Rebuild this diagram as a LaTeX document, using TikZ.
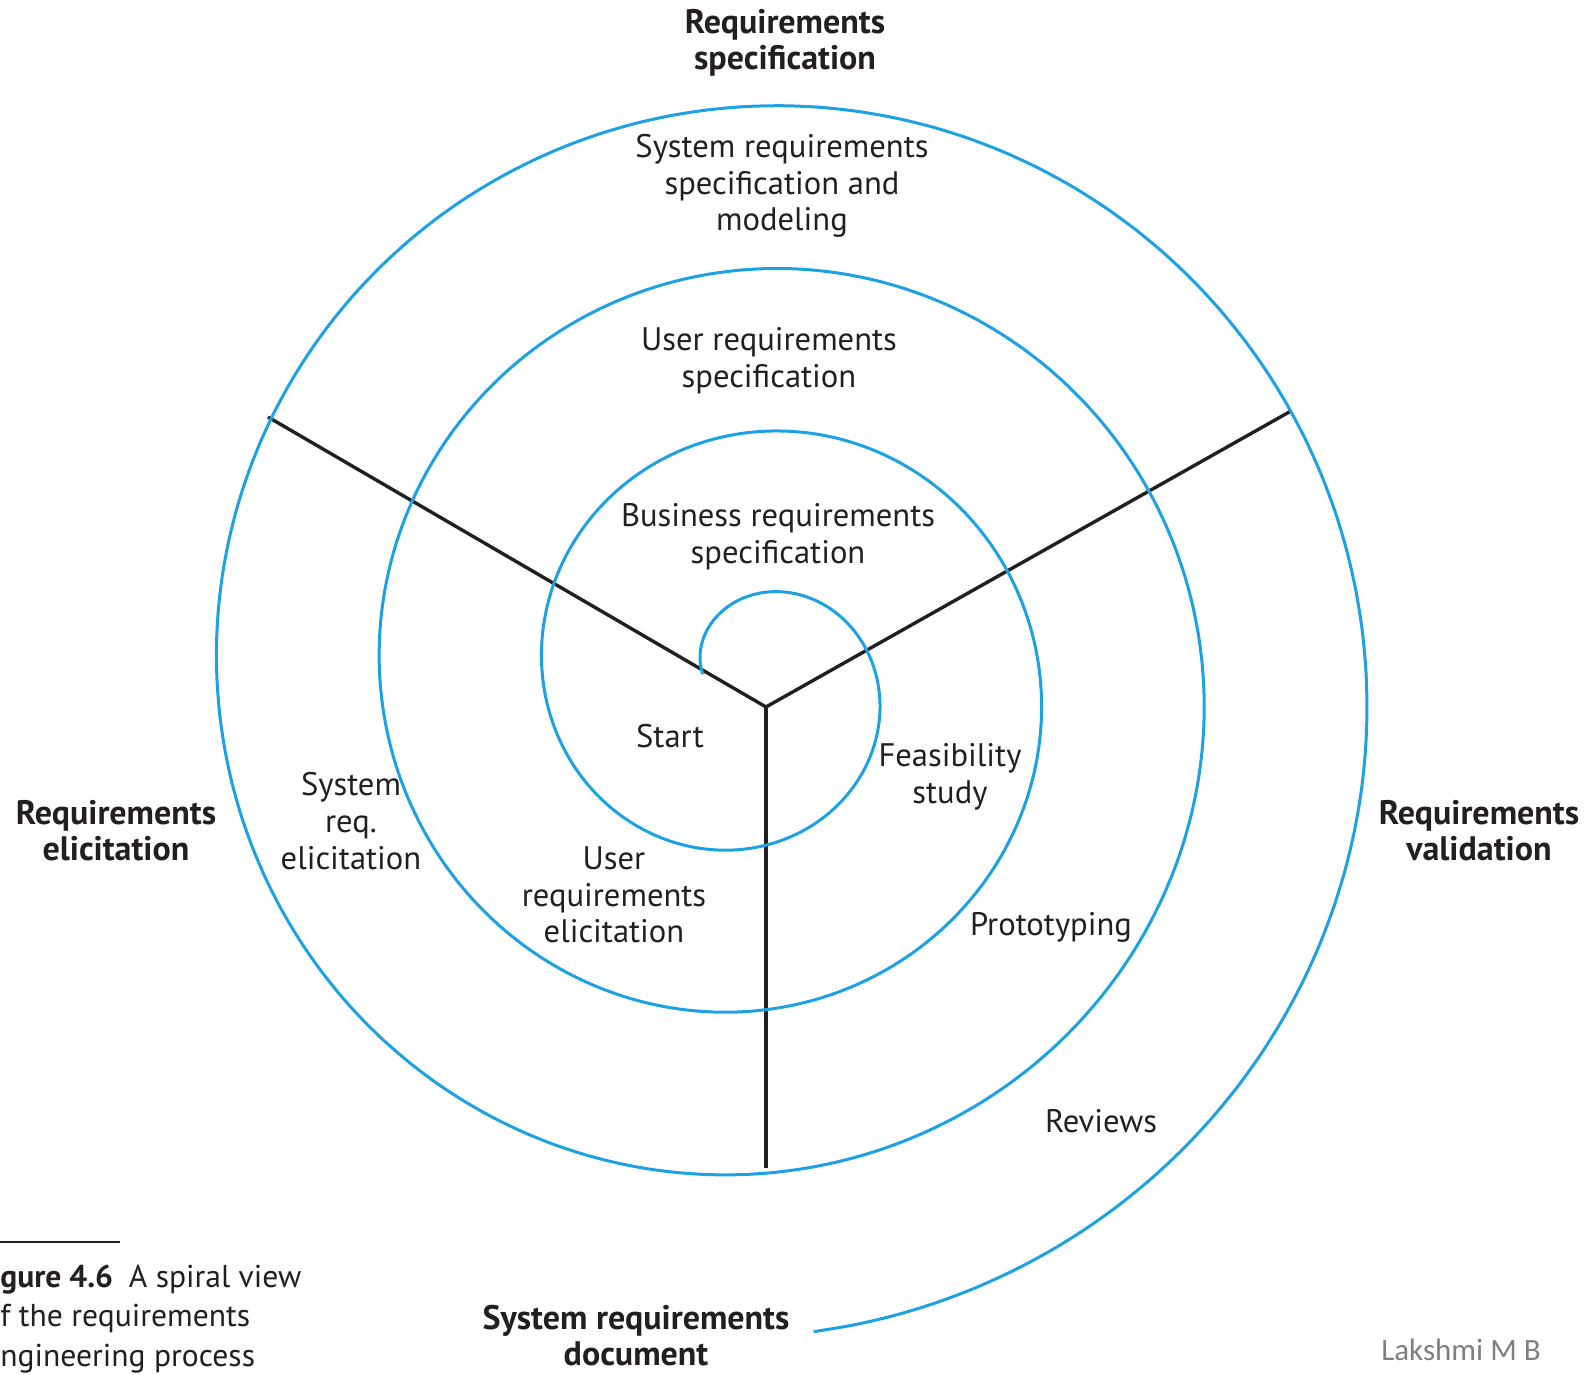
\documentclass[tikz,border=0pt]{standalone}
\usepackage{fontspec}
\setmainfont{PT Sans}
\newfontfamily\marcafont{Carlito}
\definecolor{azul}{RGB}{28,162,226}
\definecolor{tinta}{RGB}{35,31,32}
\definecolor{cinza}{RGB}{127,127,127}
\tikzset{
  rotulo/.style={font=\fontsize{16.3}{18.3}\selectfont, align=center, inner sep=0pt, text=tinta},
  fase/.style={rotulo, font=\fontsize{17}{18}\selectfont\bfseries},
  raio/.style={draw=tinta, line width=1.7pt},
  espiral/.style={draw=azul, line width=1.5pt}
}
\begin{document}
\begin{tikzpicture}[x=0.5pt, y=-0.5pt]
    \useasboundingbox (0,0) rectangle (1587,1375);

    % centro e pontas dos raios
    \coordinate (centro) at (766,707);
    \coordinate (esq) at (268,417);
    \coordinate (dir) at (1291,411);
    \coordinate (baixo) at (766,1168);

    \draw[raio] (esq) -- (centro) -- (dir);
    \draw[raio] (centro) -- (baixo);

    % espiral
    \draw[espiral] plot[domain=0:1336.5, samples=360, smooth]
        ({751+(48.6+0.45278*\x)*cos(172-\x)}, {681-(48.6+0.45278*\x)*sin(172-\x)});

    % Rotulando as fases
    \node[fase] (espec) at (785,43) {Requirements\\specification};
    \node[fase] (elic) at (116,831) {Requirements\\elicitation};
    \node[fase] (valid) at (1479,831) {Requirements\\validation};
    \node[fase] (doc) at (636,1336) {System requirements\\document};

    \node[rotulo] (sysmod) at (782,186) {System requirements\\specification and\\modeling};
    \node[rotulo] (userspec) at (769,361) {User requirements\\specification};
    \node[rotulo] (busspec) at (778,537) {Business requirements\\specification};
    \node[rotulo] (inicio) at (670,736) {Start};
    \node[rotulo] (viab) at (950,777) {Feasibility\\study};
    \node[rotulo] (syselic) at (351,821) {System\\req.\\elicitation};
    \node[rotulo] (userelic) at (614,895) {User\\requirements\\elicitation};
    \node[rotulo] (proto) at (1051,927) {Prototyping};
    \node[rotulo] (revisoes) at (1101,1121) {Reviews};

    % legenda
    \draw[tinta, line width=0.8pt] (0,1242) -- (120,1242);
    \node[rotulo, font=\fontsize{15.8}{19.75}\selectfont, anchor=west, align=left] (legenda) at (0,1319)
        {\textbf{gure 4.6}\enspace A spiral view\\f the requirements\\ngineering process};
    \node[inner sep=0pt, text=cinza, font=\marcafont\fontsize{15.5}{18}\selectfont] (marca) at (1461,1350) {Lakshmi M B};

\end{tikzpicture}
\end{document}
